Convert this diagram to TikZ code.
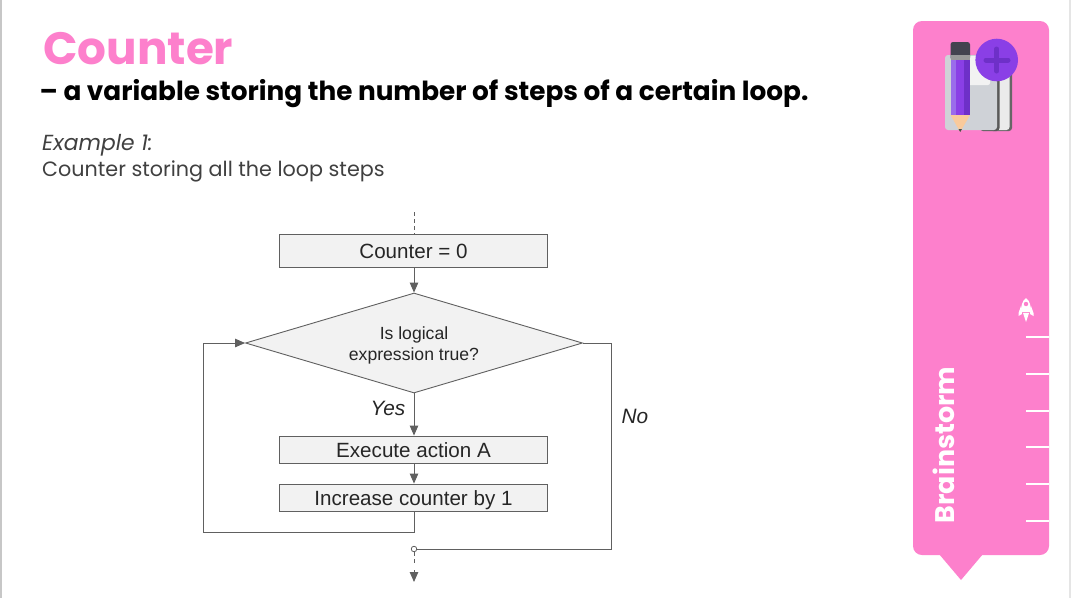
\documentclass[tikz,border=0pt]{standalone}
\usepackage{fontspec}
\usetikzlibrary{arrows.meta,calc,shapes.geometric}
\setmainfont{Liberation Sans}
\newfontfamily\headfont{Poppins}
\definecolor{pinkpanel}{HTML}{FD80CC}
\definecolor{linegray}{HTML}{606060}
\definecolor{fillgray}{HTML}{F2F2F2}
\definecolor{purplea}{HTML}{8A3FE6}
\definecolor{purpleb}{HTML}{6E30C8}
\definecolor{purplec}{HTML}{9A6CEB}
\definecolor{bookgray}{HTML}{CFD2D7}
\definecolor{capgray}{HTML}{43434F}
\tikzset{
  flowbox/.style={draw=linegray,fill=fillgray,line width=0.9pt,minimum width=268pt,inner sep=0pt,text=black!85,text height=19pt,text depth=3pt,font=\fontsize{20.6}{24}\selectfont,anchor=center},
  decision/.style={diamond,aspect=3.37,draw=linegray,fill=fillgray,line width=0.9pt,minimum width=337pt,minimum height=100pt,inner sep=0pt,align=center,text=black!85,font=\fontsize{17.6}{21}\selectfont},
  flow/.style={draw=linegray,line width=1pt},
  tip/.style={-{Triangle[length=10pt,width=8.5pt]}},
  dashflow/.style={flow,dash pattern=on 4pt off 3pt},
  edgelabel/.style={font=\itshape\fontsize{20.8}{24}\selectfont,text=black!85,inner sep=0pt},
  tick/.style={draw=white,line width=1.3pt},
}
\begin{document}
\begin{tikzpicture}[x=1pt,y=-1pt]
\useasboundingbox (0,0) rectangle (1071,598);
\fill[white] (0,0) rectangle (1071,598);
\fill[black!22] (0,0) rectangle (1.6,598);
\fill[black!10] (1068.5,0) rectangle (1071,598);
% heading
\node[anchor=base west,inner sep=0pt,text=pinkpanel] (title) at (43,64) {\headfont\fontsize{45.3}{50}\selectfont\bfseries Counter};
\node[anchor=base west,inner sep=0pt] (sub) at (39.5,100) {\headfont\fontsize{26.3}{28}\selectfont\bfseries – a variable storing the number of steps of a certain loop.};
\node[anchor=base west,inner sep=0pt,text=black!75] (ex) at (42,150) {\headfont\fontsize{21.8}{24}\selectfont\itshape Example 1:};
\node[anchor=base west,inner sep=0pt,text=black!75] (desc) at (42,176) {\headfont\fontsize{20.7}{24}\selectfont Counter storing all the loop steps};
% panel
\fill[pinkpanel,rounded corners=9pt] (913,21) rectangle (1049,555);
\fill[pinkpanel] (939,554) -- (983,554) -- (961,580) -- cycle;
\foreach \yy in {337,374,411,447,484,521} \draw[tick] (1026,\yy) -- (1049,\yy);
\node[rotate=90,inner sep=0pt,text=white] (brain) at (944,445) {\headfont\fontsize{26.9}{28}\selectfont\bfseries Brainstorm};
% rocket
\fill[white] (1026,298) .. controls (1030,301) and (1031,306) .. (1031,312) -- (1021,312) .. controls (1021,306) and (1022,301) .. (1026,298) -- cycle;
\fill[white] (1021,306) -- (1018.5,313) -- (1018.5,316) -- (1022,314) -- cycle;
\fill[white] (1031,306) -- (1033.5,313) -- (1033.5,316) -- (1030,314) -- cycle;
\fill[white] (1023,313) -- (1029,313) -- (1026,322) -- cycle;
\fill[pinkpanel] (1026,304) circle (2.2);
% icon
\fill[black!60,rounded corners=3pt] (990,62) rectangle (1012,131);
\fill[black!8,rounded corners=3pt] (990,62) rectangle (1009.5,130);
\fill[black!65,rounded corners=3pt] (980,58) rectangle (999.5,131);
\fill[bookgray,rounded corners=3pt] (945,55) rectangle (997,130);
\fill[black!5,rounded corners=2pt] (968,56) rectangle (990,85);
\fill[capgray,rounded corners=2.5pt] (950.5,42) rectangle (970,60);
\fill[black!40] (950.5,55) rectangle (970,60);
\fill[purplec] (950.5,60) rectangle (956,115);
\fill[purplea] (956,60) rectangle (964,115);
\fill[purpleb] (964,60) rectangle (970,115);
\fill[orange!35!white!90!brown] (950.5,115) -- (970,115) -- (960.2,132) -- cycle;
\fill[black!70] (958.5,129) -- (962,129) -- (960.2,132) -- cycle;
\fill[purplea] (996.7,60) circle (21.3);
\draw[purpleb,line width=5pt,line cap=round] (986,60) -- (1008,60);
\draw[purpleb,line width=5pt,line cap=round] (996.7,49) -- (996.7,71);
% flowchart
\node[flowbox,minimum height=33pt] (init) at (413.5,250.5) {Counter = 0};
\node[decision] (cond) at (414,343) {\raisebox{-7.4pt}[22pt][22pt]{\begin{tabular}{@{}c@{}}Is logical\\expression true?\end{tabular}}};
\node[flowbox,minimum height=27pt] (exec) at (413.5,449.5) {Execute action A};
\node[flowbox,minimum height=27pt] (incr) at (413.5,497.5) {Increase counter by 1};
\coordinate (start) at (414,212);
\coordinate (loopa) at (203,532);
\coordinate (loopb) at (203,343);
\coordinate (nocorner) at (611,343);
\coordinate (nobottom) at (611,549);
\node[circle,draw=linegray,fill=white,line width=0.8pt,minimum size=5.5pt,inner sep=0pt] (merge) at (414,549) {};
\coordinate (dashend) at (414,566);
\coordinate (exit) at (414,582);
\draw[dashflow] (start) -- (start |- init.north);
\draw[flow,tip] (init.south -| cond.north) -- (cond.north);
\draw[flow,tip] (cond.south) -- (exec.north -| cond.south);
\draw[flow,tip] (exec.south -| cond.south) -- (incr.north -| cond.south);
\draw[flow,line join=miter] (incr.south -| cond.south) |- (loopa) -- (loopb);
\draw[flow,tip] (loopb) -- (cond.west);
\draw[flow] (cond.east) -- (nocorner) -- (nobottom) -- (merge.east);
\draw[dashflow] (merge.south) -- (dashend);
\draw[flow,tip] (dashend) ++(0,4) -- (exit);
\node[edgelabel] (yes) at (388,408) {Yes};
\node[edgelabel] (no) at (635,416) {No};
\end{tikzpicture}
\end{document}
